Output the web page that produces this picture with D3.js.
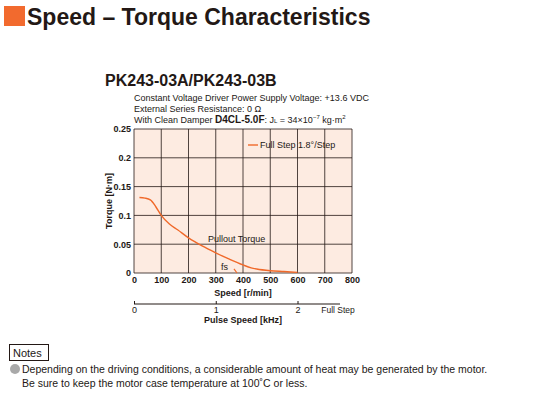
<!DOCTYPE html>
<html><head><meta charset="utf-8">
<script src="https://cdn.jsdelivr.net/npm/d3@7"></script>
<style>
body{margin:0;background:#fff}
svg text{font-family:"Liberation Sans Narrow","Liberation Sans",sans-serif;fill:#231815}
</style></head>
<body><svg id="chart" width="550" height="400"></svg>
<script>
// pullout torque curve, speed [r/min] vs torque [N·m]
const speed = [20, 40, 60, 80, 100, 130, 160, 200, 250, 300, 350, 400, 430, 450, 500, 550, 600]
const torque = [0.131, 0.13, 0.127, 0.115, 0.1, 0.085, 0.075, 0.061, 0.047, 0.035, 0.024, 0.014, 0.009, 0.007, 0.004, 0.0025, 0.001]
const fsSpeed = [367, 378]
const fsTorque = [0.007, 0]
const xTicks = [0, 100, 200, 300, 400, 500, 600, 700, 800]
const yTicks = [0, 0.05, 0.1, 0.15, 0.2, 0.25]
const pulseTicks = [0, 1, 2]

const svg = d3.select('#chart')
const orange = '#f0692a'

// header
svg.append('rect').attr('x', 4).attr('y', 6).attr('width', 21).attr('height', 20).attr('fill', '#f26a2e')
svg.append('text').attr('x', 27).attr('y', 25).text('Speed – Torque Characteristics')
  .style('font-family', 'Liberation Sans').style('font-weight', 'bold').style('font-size', '23px')

svg.append('text').attr('x', 105).attr('y', 86).text('PK243-03A/PK243-03B')
  .style('font-family', 'Liberation Sans').style('font-weight', 'bold').style('font-size', '16px')
const sub = svg.append('g').style('font-size', '9px')
sub.append('text').attr('x', 134).attr('y', 101).text('Constant Voltage Driver   Power Supply Voltage: +13.6 VDC')
sub.append('text').attr('x', 134).attr('y', 112).text('External Series Resistance: 0 Ω')
const t3 = sub.append('text').attr('x', 134).attr('y', 123)
t3.append('tspan').text('With Clean Damper ')
t3.append('tspan').text('D4CL-5.0F').style('font-weight', 'bold').style('font-family', 'Liberation Sans').style('font-size', '10px')
t3.append('tspan').text(': J')
t3.append('tspan').text('L').style('font-size', '6px')
t3.append('tspan').text(' = 34×10')
t3.append('tspan').text('−7').attr('dy', -4).style('font-size', '6px')
t3.append('tspan').text(' kg·m').attr('dy', 4)
t3.append('tspan').text('2').attr('dy', -4).style('font-size', '6px')

const x = d3.scaleLinear().domain([0, 800]).range([134, 352])
const y = d3.scaleLinear().domain([0, 0.25]).range([273, 129])

svg.append('rect').attr('x', x(0)).attr('y', y(0.25)).attr('width', x(800) - x(0)).attr('height', y(0) - y(0.25)).attr('fill', '#fdebe1')
const grid = svg.append('g').attr('stroke', '#231815').attr('stroke-width', 0.8)
grid.selectAll('.v').data(xTicks).join('line').attr('x1', d => x(d)).attr('x2', d => x(d)).attr('y1', y(0)).attr('y2', y(0.25))
grid.selectAll('.h').data(yTicks).join('line').attr('y1', d => y(d)).attr('y2', d => y(d)).attr('x1', x(0)).attr('x2', x(800))

const ax = svg.append('g').attr('transform', `translate(0,${y(0)})`)
  .call(d3.axisBottom(x).tickValues(xTicks).tickSize(0).tickPadding(4))
ax.select('.domain').remove()
ax.selectAll('text').style('font-size', '9px').style('font-weight', 'bold')
const ay = svg.append('g').attr('transform', `translate(${x(0)},0)`)
  .call(d3.axisLeft(y).tickValues(yTicks).tickSize(0).tickPadding(3).tickFormat(d => d))
ay.select('.domain').remove()
ay.selectAll('text').style('font-size', '9px').style('font-weight', 'bold')

svg.append('text').attr('x', 243).attr('y', 296).attr('text-anchor', 'middle').style('font-size', '9px').style('font-weight', 'bold').text('Speed [r/min]')
svg.append('text').attr('transform', 'translate(112,201) rotate(-90)').attr('text-anchor', 'middle').style('font-size', '9px').style('font-weight', 'bold').text('Torque [N·m]')

// pulse speed axis: 2 kHz = 600 r/min
const p = d3.scaleLinear().domain([0, 2]).range([x(0), x(600)])
const ap = svg.append('g').attr('transform', 'translate(0,304)')
  .call(d3.axisBottom(p).tickValues(pulseTicks).tickSize(-3).tickSizeOuter(0).tickPadding(3).tickFormat(d3.format('d')))
ap.select('.domain').attr('d', `M${x(0)},0H${x(800) - 12}`).attr('stroke', '#231815')
ap.selectAll('line').attr('stroke', '#231815')
ap.selectAll('text').style('font-size', '9px')
svg.append('text').attr('x', 338).attr('y', 313).attr('text-anchor', 'middle').style('font-size', '8.5px').text('Full Step')
svg.append('text').attr('x', 243).attr('y', 323).attr('text-anchor', 'middle').style('font-size', '9px').style('font-weight', 'bold').text('Pulse Speed  [kHz]')

const line = d3.line().x(d => x(d[0])).y(d => y(d[1])).curve(d3.curveMonotoneX)
svg.append('path').datum(d3.zip(speed, torque)).attr('d', line).attr('fill', 'none').attr('stroke', orange).attr('stroke-width', 1.4)
svg.append('path').datum(d3.zip(fsSpeed, fsTorque)).attr('d', d3.line().x(d => x(d[0])).y(d => y(d[1]))).attr('fill', 'none').attr('stroke', orange).attr('stroke-width', 1.2)

svg.append('line').attr('x1', 248).attr('x2', 258).attr('y1', 145).attr('y2', 145).attr('stroke', orange).attr('stroke-width', 1.4)
svg.append('text').attr('x', 260).attr('y', 148).style('font-size', '9px').text('Full Step 1.8°/Step')
svg.append('text').attr('x', 208).attr('y', 242).style('font-size', '9px').text('Pullout Torque')
svg.append('text').attr('x', 221).attr('y', 270).style('font-size', '9px').text('fs')

// notes
svg.append('rect').attr('x', 9.5).attr('y', 344.5).attr('width', 39).attr('height', 16).attr('fill', 'none').attr('stroke', '#231815')
svg.append('text').attr('x', 13).attr('y', 357).style('font-size', '11px').text('Notes')
svg.append('circle').attr('cx', 15).attr('cy', 369).attr('r', 5).attr('fill', '#a9a9a9')
svg.append('text').attr('x', 22).attr('y', 373).style('font-size', '10.5px').text('Depending on the driving conditions, a considerable amount of heat may be generated by the motor.')
svg.append('text').attr('x', 22).attr('y', 387).style('font-size', '10.5px').text('Be sure to keep the motor case temperature at 100˚C or less.')
</script></body></html>
